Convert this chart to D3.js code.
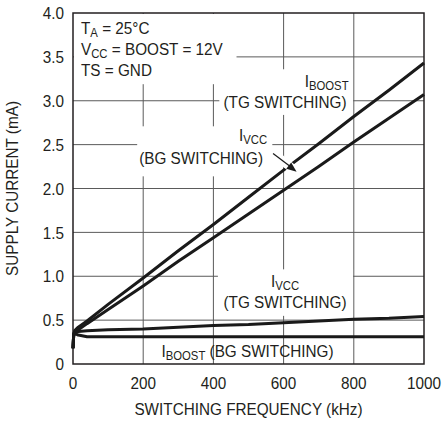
<!DOCTYPE html>
<html><head><meta charset="utf-8">
<script src="https://cdn.jsdelivr.net/npm/d3@7"></script>
<style>
body{margin:0;background:#fff}
text{font-family:"Liberation Sans",Arial,sans-serif;fill:#231f20}
</style>
</head><body>
<svg id="c" width="444" height="421"></svg>
<script>
const xTicks = [0, 200, 400, 600, 800, 1000];
const xTickLabels = ["0", "200", "400", "600", "800", "1000"];
const yTicks = [0, 0.5, 1, 1.5, 2, 2.5, 3, 3.5, 4];
const yTickLabels = ["0", "0.5", "1.0", "1.5", "2.0", "2.5", "3.0", "3.5", "4.0"];

const freqKHz  = [0, 2, 5, 15, 40, 100, 200, 300, 400, 500, 600, 700, 800, 900, 1000];
const iBoostTG = [0.18, 0.34, 0.38, 0.42, 0.49, 0.68, 0.98, 1.29, 1.59, 1.90, 2.21, 2.51, 2.82, 3.12, 3.43];
const iVccBG   = [0.18, 0.34, 0.36, 0.39, 0.46, 0.62, 0.89, 1.17, 1.44, 1.71, 1.98, 2.25, 2.53, 2.80, 3.07];
const iVccTG   = [0.18, 0.34, 0.37, 0.37, 0.38, 0.39, 0.40, 0.42, 0.44, 0.45, 0.47, 0.49, 0.51, 0.52, 0.54];
const iBoostBG = [0.18, 0.33, 0.35, 0.33, 0.31, 0.31, 0.31, 0.31, 0.31, 0.31, 0.31, 0.31, 0.31, 0.31, 0.31];
const seriesList = [iBoostTG, iVccBG, iVccTG, iBoostBG];

const W = 444, H = 421;
const m = {left: 73, right: 20, top: 13, bottom: 57};
const svg = d3.select("#c");
const x = d3.scaleLinear().domain([0, 1000]).range([m.left, W - m.right]);
const y = d3.scaleLinear().domain([0, 4]).range([H - m.bottom, m.top]);
const FS = 17, SX = 0.9;

// condensed text helper
function ctext(g, xp, yp, anchor, size) {
  return g.append("text").attr("transform", `translate(${xp},${yp}) scale(${SX},1)`)
    .attr("text-anchor", anchor).attr("font-size", size || FS);
}

// gridlines
const grid = svg.append("g").attr("stroke", "#5a5a5a").attr("stroke-width", 1);
grid.selectAll(".v").data(xTicks.slice(1, -1)).join("line")
  .attr("x1", d => x(d)).attr("x2", d => x(d)).attr("y1", y(0)).attr("y2", y(4));
grid.selectAll(".h").data(yTicks.slice(1, -1)).join("line")
  .attr("x1", x(0)).attr("x2", x(1000)).attr("y1", d => y(d)).attr("y2", d => y(d));

// white masks behind labels (gridlines broken by text)
const masks = [
  [0, 463, 4.0, 3.2],     // conditions block
  [414, 795, 3.37, 2.85], // IBOOST (TG)
  [180, 565, 2.72, 2.15], // IVCC (BG)
  [410, 795, 1.09, 0.56]  // IVCC (TG)
];
svg.append("g").selectAll("rect").data(masks).join("rect")
  .attr("x", d => x(d[0]) + 1).attr("y", d => y(d[2]) + 1)
  .attr("width", d => x(d[1]) - x(d[0])).attr("height", d => y(d[3]) - y(d[2]))
  .attr("fill", "#fff");

// frame
svg.append("rect").attr("x", x(0)).attr("y", y(4))
  .attr("width", x(1000) - x(0)).attr("height", y(0) - y(4))
  .attr("fill", "none").attr("stroke", "#231f20").attr("stroke-width", 1.5);

// tick labels
const tx = svg.append("g");
xTicks.forEach((d, i) => ctext(tx, x(d), y(0) + 25, "middle").text(xTickLabels[i]));
const ty = svg.append("g");
yTicks.forEach((d, i) => ctext(ty, x(0) - 9, y(d), "end").attr("dy", "0.36em").text(yTickLabels[i]));

// axis titles
ctext(svg, (x(0) + x(1000)) / 2, 415, "middle").text("SWITCHING FREQUENCY (kHz)");
svg.append("text").attr("transform", `translate(18,${(y(0) + y(4)) / 2}) rotate(-90) scale(${SX},1)`)
  .attr("text-anchor", "middle").attr("font-size", FS).text("SUPPLY CURRENT (mA)");

// data lines
const line = d3.line().x((d, i) => x(freqKHz[i])).y(d => y(d));
svg.append("g").selectAll("path").data(seriesList).join("path")
  .attr("d", line).attr("fill", "none").attr("stroke", "#1a1a1a")
  .attr("stroke-width", 3).attr("stroke-linejoin", "round");

// arrow with white halo
const a0 = [570, 2.40], a1 = [637, 2.19];
svg.append("line").attr("x1", x(a0[0])).attr("y1", y(a0[1])).attr("x2", x(a1[0])).attr("y2", y(a1[1]))
  .attr("stroke", "#fff").attr("stroke-width", 9);
svg.append("line").attr("x1", x(a0[0])).attr("y1", y(a0[1])).attr("x2", x(a1[0]) - 6).attr("y2", y(a1[1]) - 5)
  .attr("stroke", "#1a1a1a").attr("stroke-width", 1.2);
{
  const px0 = x(a1[0]), py0 = y(a1[1]);
  const ang = Math.atan2(py0 - y(a0[1]), px0 - x(a0[0]));
  const L = 10, Wd = 4;
  const bx = px0 - L * Math.cos(ang), by = py0 - L * Math.sin(ang);
  const px = -Math.sin(ang) * Wd, py = Math.cos(ang) * Wd;
  svg.append("path").attr("d", `M${px0},${py0}L${bx + px},${by + py}L${bx - px},${by - py}Z`)
    .attr("fill", "#1a1a1a");
}

// labels with subscripts
function label(xp, yp, anchor, main, sub, rest) {
  const t = ctext(svg, xp, yp, anchor);
  t.append("tspan").text(main);
  if (sub) t.append("tspan").attr("font-size", FS * 0.74).attr("dy", 3).text(sub);
  if (rest) t.append("tspan").attr("dy", sub ? -3 : 0).text(rest);
  return t;
}
// conditions block
label(x(0) + 8, 34, "start", "T", "A", " = 25°C");
label(x(0) + 8, 55, "start", "V", "CC", " = BOOST = 12V");
label(x(0) + 8, 76, "start", "TS = GND");

label(x(785), 87, "end", "I", "BOOST");
label(x(604), 108, "middle", "(TG SWITCHING)");

label(x(553), 141, "end", "I", "VCC");
label(x(365), 164, "middle", "(BG SWITCHING)");

label(x(604), 287, "middle", "I", "VCC");
label(x(604), 308, "middle", "(TG SWITCHING)");

label(x(252), 357, "start", "I", "BOOST", " (BG SWITCHING)");
</script>
</body></html>
